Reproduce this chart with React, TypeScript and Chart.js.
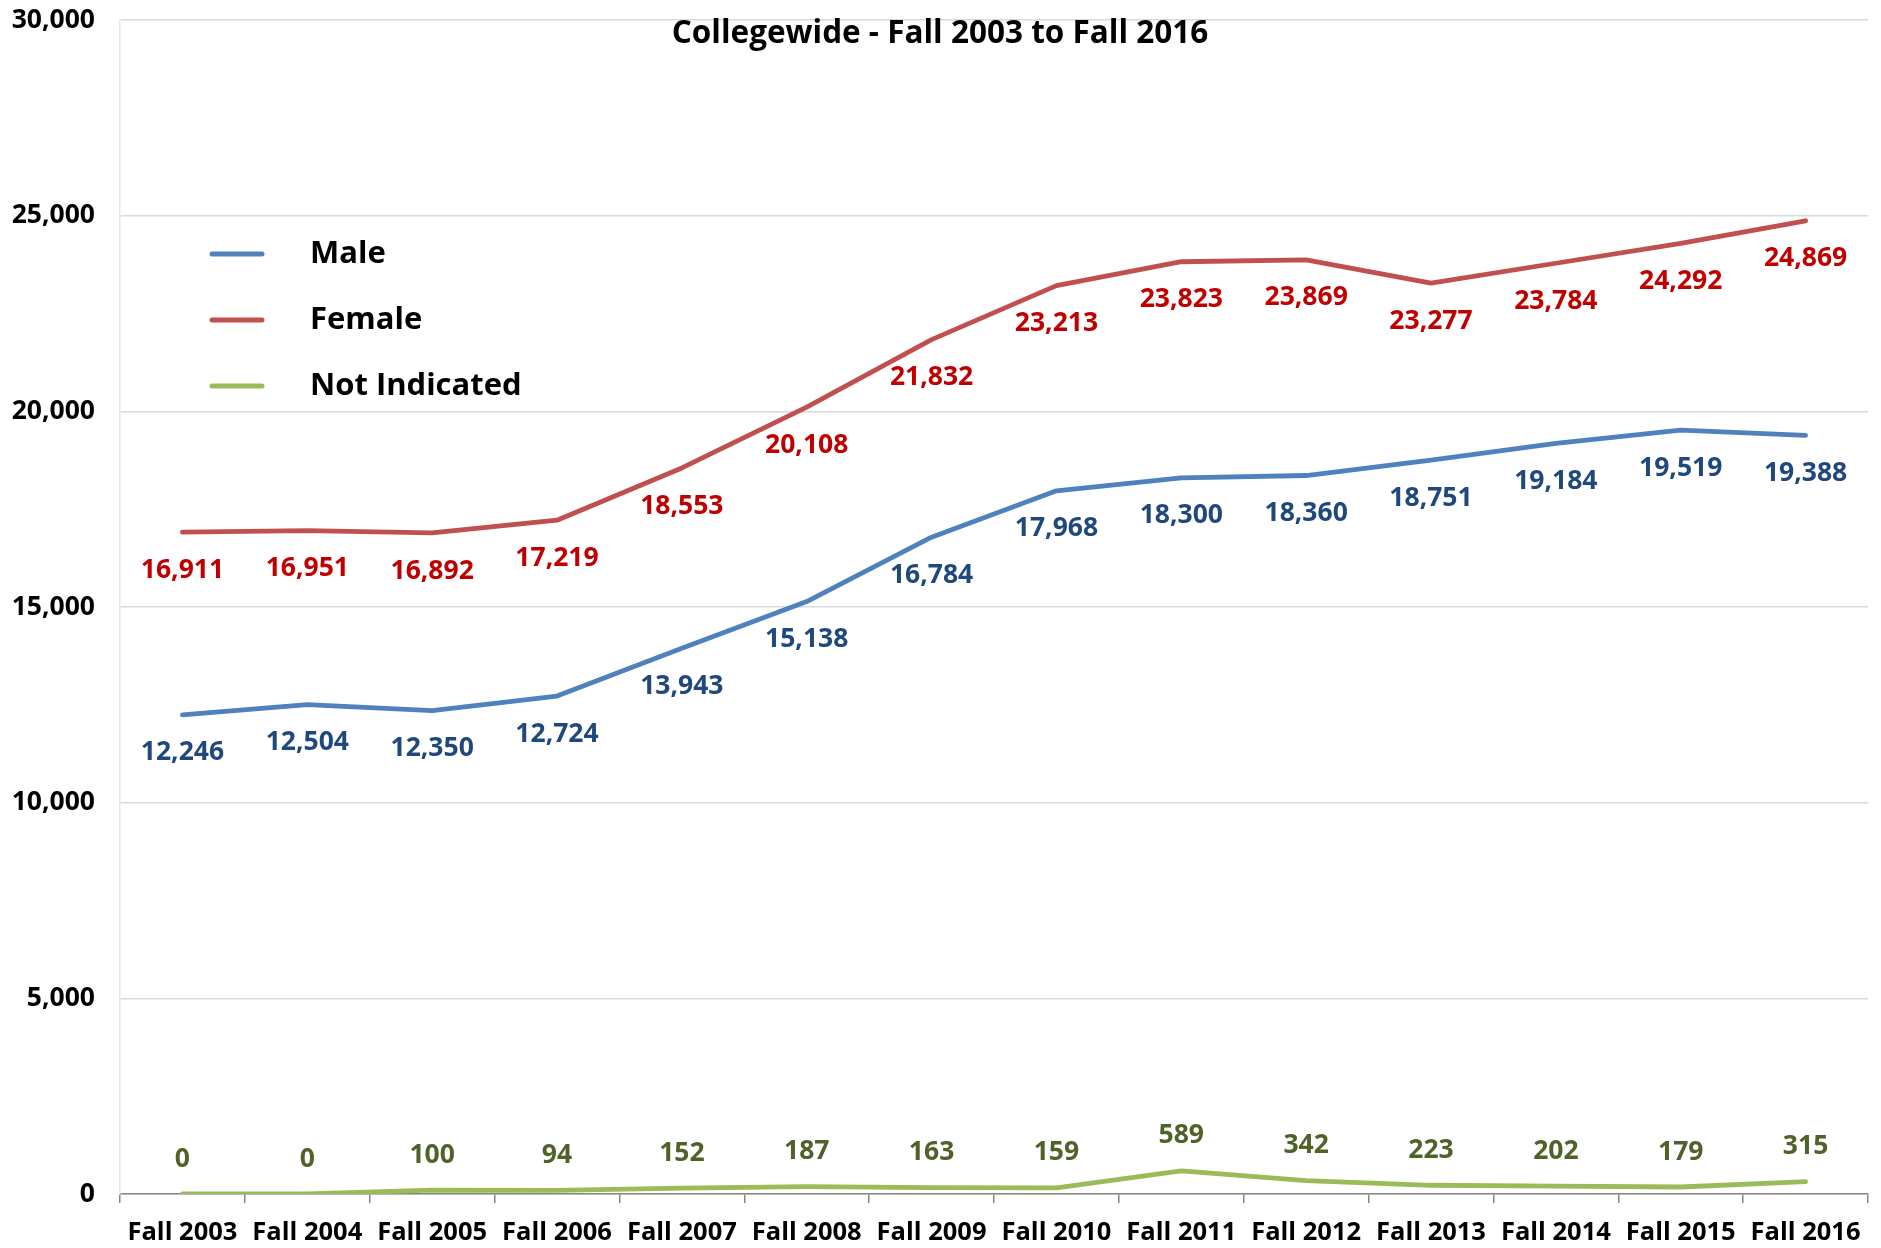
import React, { useEffect, useRef } from "react";
import { Chart, registerables } from "chart.js";

Chart.register(...registerables);

const categories = [
  "Fall 2003", "Fall 2004", "Fall 2005", "Fall 2006", "Fall 2007", "Fall 2008", "Fall 2009",
  "Fall 2010", "Fall 2011", "Fall 2012", "Fall 2013", "Fall 2014", "Fall 2015", "Fall 2016",
];
const maleValues = [12246, 12504, 12350, 12724, 13943, 15138, 16784, 17968, 18300, 18360, 18751, 19184, 19519, 19388];
const femaleValues = [16911, 16951, 16892, 17219, 18553, 20108, 21832, 23213, 23823, 23869, 23277, 23784, 24292, 24869];
const notIndicatedValues = [0, 0, 100, 94, 152, 187, 163, 159, 589, 342, 223, 202, 179, 315];
const seriesNames = ["Male", "Female", "Not Indicated"];
const chartTitle = "Collegewide - Fall 2003 to Fall 2016";
const yMin = 0;
const yMax = 30000;
const yStep = 5000;

const FONT = "'Open Sans', 'DejaVu Sans', sans-serif";
const lineColors = ["#4F81BD", "#C0504D", "#9BBB59"];
const labelColors = ["#1F497D", "#C00000", "#4F6228"];
const labelOffsets = [38, 38, -35];

const fmt = (v: number) => v.toLocaleString("en-US");

const overlayPlugin = {
  id: "overlay",
  afterDatasetsDraw(chart: any) {
    const ctx = chart.ctx;
    ctx.save();
    // data labels
    chart.data.datasets.forEach((ds: any, i: number) => {
      const meta = chart.getDatasetMeta(i);
      ctx.fillStyle = labelColors[i];
      ctx.font = `bold 26.5px ${FONT}`;
      ctx.textAlign = "center";
      ctx.textBaseline = "middle";
      meta.data.forEach((pt: any, j: number) => {
        ctx.fillText(fmt(ds.data[j]), pt.x, pt.y + labelOffsets[i]);
      });
    });
    // title
    ctx.fillStyle = "#000";
    ctx.font = `bold 31.5px ${FONT}`;
    ctx.textAlign = "center";
    ctx.textBaseline = "middle";
    ctx.fillText(chartTitle, 940, 34);
    // legend
    const rows = [254, 320, 386];
    seriesNames.forEach((name, i) => {
      ctx.strokeStyle = lineColors[i];
      ctx.lineWidth = 5;
      ctx.lineCap = "round";
      ctx.beginPath();
      ctx.moveTo(212, rows[i]);
      ctx.lineTo(262, rows[i]);
      ctx.stroke();
      ctx.fillStyle = "#000";
      ctx.font = `bold 31px ${FONT}`;
      ctx.textAlign = "left";
      ctx.textBaseline = "middle";
      ctx.fillText(name, 310, rows[i]);
    });
    ctx.restore();
  },
};

export default function App() {
  const ref = useRef<HTMLCanvasElement>(null);
  useEffect(() => {
    if (!ref.current) return;
    const chart = new Chart(ref.current, {
      type: "line",
      data: {
        labels: categories,
        datasets: [maleValues, femaleValues, notIndicatedValues].map((d, i) => ({
          label: seriesNames[i],
          data: d,
          borderColor: lineColors[i],
          backgroundColor: lineColors[i],
          borderWidth: 4.8,
          borderCapStyle: "round" as const,
          borderJoinStyle: "round" as const,
          pointRadius: 0,
          tension: 0,
          fill: false,
        })),
      },
      options: {
        responsive: false,
        animation: false,
        layout: { padding: { top: 20, right: 13, left: 0, bottom: 0 } },
        plugins: {
          legend: { display: false },
          title: { display: false },
          tooltip: { enabled: false },
        },
        scales: {
          x: {
            offset: true,
            grid: {
              offset: true,
              drawOnChartArea: false,
              drawTicks: true,
              tickLength: 9,
              color: "#868686",
              lineWidth: 1.5,
            },
            border: { color: "#868686", width: 1.5 },
            ticks: {
              color: "#000",
              font: { family: FONT, size: 25.5, weight: "bold" },
              padding: 14,
              autoSkip: false,
              maxRotation: 0,
            },
            afterFit: (s: any) => {
              s.height = 54;
              s.paddingLeft = 0;
              s.paddingRight = 0;
            },
          },
          y: {
            min: yMin,
            max: yMax,
            ticks: {
              stepSize: yStep,
              color: "#000",
              font: { family: FONT, size: 26.5, weight: "bold" },
              padding: 25,
              callback: (v: any) => fmt(Number(v)),
            },
            grid: { color: "#D9D9D9", lineWidth: 1.5, drawTicks: false },
            border: { color: "#E6E6E6", width: 1.5 },
            afterFit: (s: any) => {
              s.width = 120;
              s.paddingTop = 0;
              s.paddingBottom = 0;
            },
          },
        },
      },
      plugins: [overlayPlugin],
    });
    return () => chart.destroy();
  }, []);
  return (
    <div style={{ position: "absolute", left: 0, top: 0, width: 1881, height: 1248, background: "#fff" }}>
      <canvas ref={ref} width={1881} height={1248} style={{ display: "block" }} />
    </div>
  );
}
